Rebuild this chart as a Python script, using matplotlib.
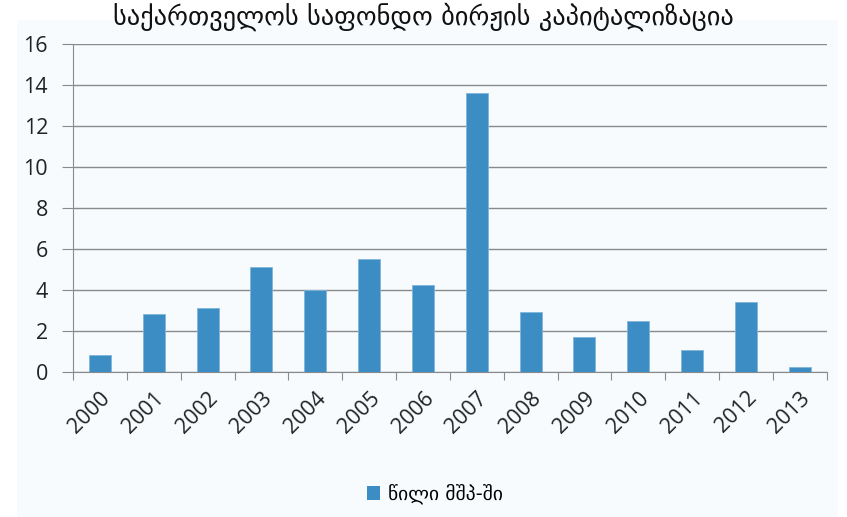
import matplotlib.pyplot as plt
from matplotlib.patches import Rectangle, Patch

years = ["2000", "2001", "2002", "2003", "2004", "2005", "2006",
         "2007", "2008", "2009", "2010", "2011", "2012", "2013"]
values = [0.84, 2.83, 3.15, 5.12, 4.01, 5.51, 4.24,
          13.61, 2.92, 1.72, 2.50, 1.07, 3.43, 0.24]
title = "საქართველოს საფონდო ბირჟის კაპიტალიზაცია"
series_label = "წილი მშპ-ში"
yticks = [0, 2, 4, 6, 8, 10, 12, 14, 16]

BAR_COLOR = "#3d8dc5"
BG = "#f7fbfd"
W, H = 847, 517

fig = plt.figure(figsize=(W / 100, H / 100), dpi=100)
fig.patch.set_facecolor("white")
# light chart-area panel, drawn behind the axes
fig.patches.append(Rectangle((17 / W, 0), (838 - 17) / W, 1 - 20 / H,
                             transform=fig.transFigure, facecolor=BG,
                             edgecolor="none", zorder=-10))

ax = fig.add_axes([73 / W, 1 - 372.3 / H, (826.7 - 73) / W, (372.3 - 44) / H])
ax.set_zorder(1)
ax.set_facecolor(BG)

x = list(range(len(years)))
ax.bar(x, values, width=0.41, color=BAR_COLOR, edgecolor="#7fb6dc",
       linewidth=0.6, zorder=3)

ax.set_xlim(-0.5, len(years) - 0.5)
ax.set_ylim(0, 16)
ax.set_yticks(yticks)
ax.set_yticklabels([str(v) for v in yticks], fontsize=15.5, color="#222222",
                   family="Open Sans")
ax.yaxis.grid(True, color="#8a8a8a", linewidth=1.0, zorder=0)
ax.set_axisbelow(True)
ax.tick_params(axis="y", length=8, color="#8a8a8a", pad=10)

# category boundary ticks
ax.set_xticks([i - 0.5 for i in range(len(years) + 1)], minor=False)
ax.set_xticklabels([])
ax.tick_params(axis="x", which="major", length=6, color="#8a8a8a",
               direction="out")
ax.set_xticks(x, minor=True)
ax.set_xticklabels(years, minor=True, rotation=45, ha="right",
                   rotation_mode="anchor", fontsize=15.5, color="#222222",
                   family="Open Sans")
ax.tick_params(axis="x", which="minor", length=0, pad=11)

for s in ["top", "right"]:
    ax.spines[s].set_visible(False)
ax.spines["left"].set_color("#8a8a8a")
ax.spines["bottom"].set_color("#8a8a8a")

fig.text(0.5, 1 - 17 / H, title, ha="center", va="center", fontsize=19,
         color="#111111")

fig.legend(handles=[Patch(facecolor=BAR_COLOR, edgecolor="none",
                          label=series_label)],
           loc="center", bbox_to_anchor=(435 / W, 1 - 494 / H), frameon=False,
           fontsize=14, handlelength=0.7, handleheight=0.7,
           handletextpad=0.4)

fig.savefig("out.png", dpi=100, facecolor=fig.get_facecolor())
